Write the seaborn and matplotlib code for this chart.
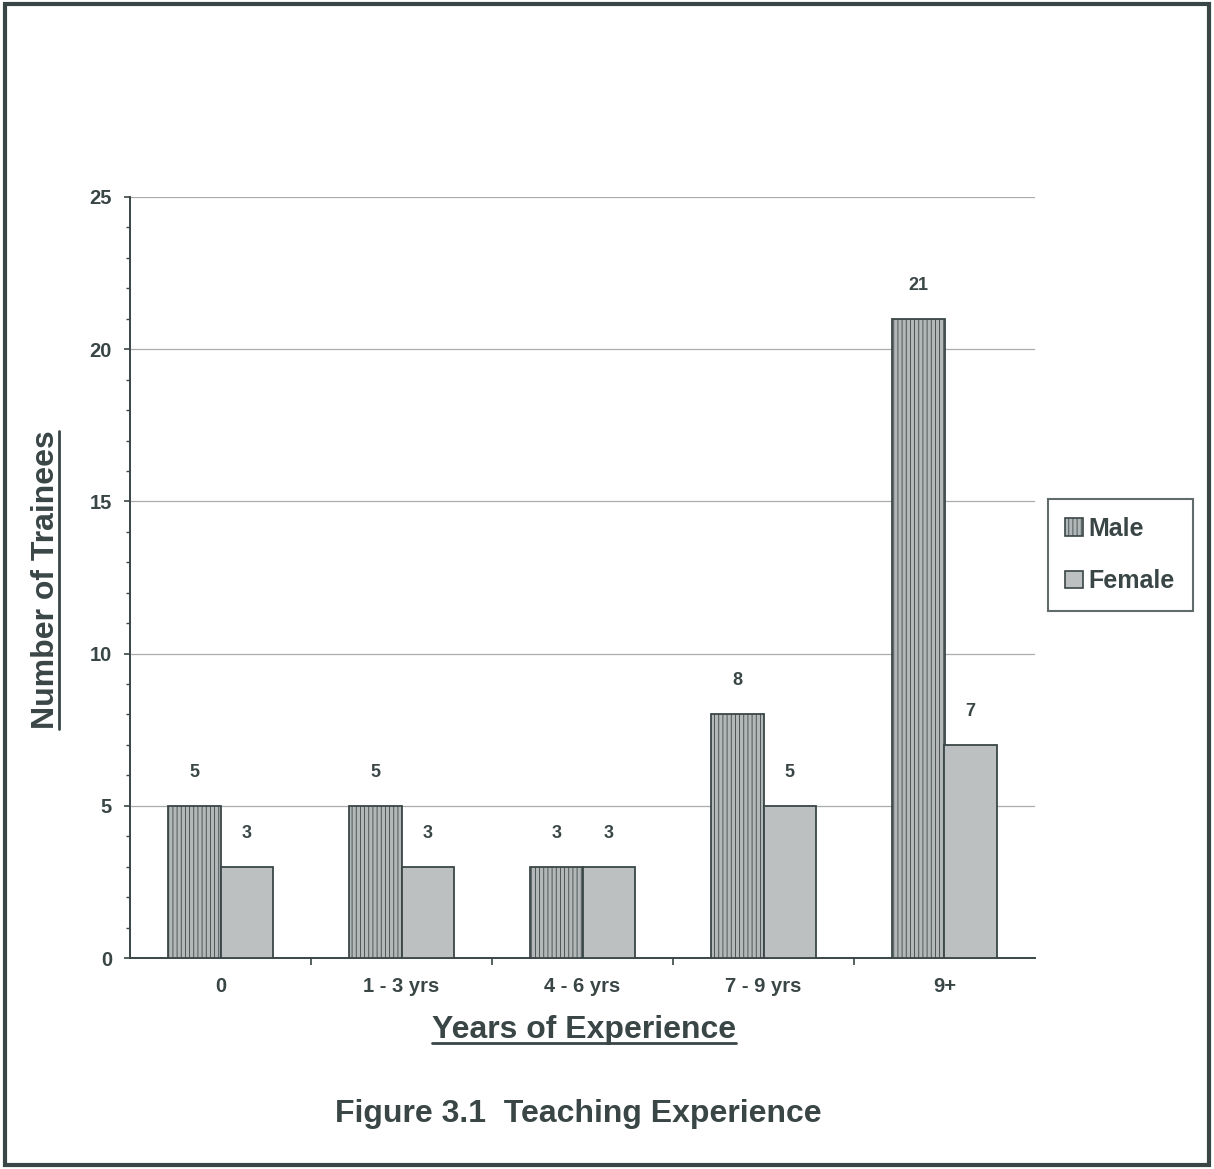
import numpy as np
import pandas as pd
import matplotlib
matplotlib.use("Agg")
import matplotlib.pyplot as plt
from matplotlib.patches import Patch, Rectangle
from matplotlib.lines import Line2D
from matplotlib.ticker import MultipleLocator, FixedLocator
import seaborn as sns

categories = ["0", "1 - 3 yrs", "4 - 6 yrs", "7 - 9 yrs", "9+"]
male = [5, 5, 3, 8, 21]
female = [3, 3, 3, 5, 7]
series_names = ["Male", "Female"]

INK = "#3a4646"
MALE_FACE = "#b2b8b8"
FEMALE_FACE = "#bcc0c0"

sns.set_theme(style="white")
plt.rcParams["font.family"] = ["Liberation Sans", "DejaVu Sans"]
plt.rcParams["hatch.linewidth"] = 0.6

df = pd.DataFrame({
    "Years": categories * 2,
    "Count": male + female,
    "Gender": ["Male"] * len(categories) + ["Female"] * len(categories),
})

W, H = 1214, 1169
fig = plt.figure(figsize=(W / 100, H / 100), dpi=100)
fig.patch.set_facecolor("white")
ax = fig.add_axes([130 / W, 1 - 958 / H, (1035 - 130) / W, (958 - 197) / H])

sns.barplot(data=df, x="Years", y="Count", hue="Gender", order=categories,
            hue_order=series_names,
            palette={"Male": MALE_FACE, "Female": FEMALE_FACE},
            width=0.58, edgecolor=INK, linewidth=1.3, legend=False, ax=ax,
            zorder=3)

for bar in ax.containers[0]:
    bar.set_hatch("||||")

ax.set_xlim(-0.5, len(categories) - 0.5)
ax.set_ylim(0, 25)
ax.yaxis.set_major_locator(MultipleLocator(5))
ax.yaxis.set_minor_locator(MultipleLocator(1))
ax.xaxis.set_minor_locator(FixedLocator(np.arange(0.5, len(categories) - 0.5, 1)))
ax.grid(axis="y", which="major", color="#a8acac", linewidth=0.9, zorder=0)
ax.set_axisbelow(True)

for s in ["top", "right"]:
    ax.spines[s].set_visible(False)
for s in ["left", "bottom"]:
    ax.spines[s].set_color(INK)
    ax.spines[s].set_linewidth(1.4)

ax.tick_params(axis="y", which="major", direction="out", length=4, width=1.2,
               colors=INK, labelsize=14.5, pad=9, left=True)
ax.tick_params(axis="y", which="minor", direction="out", length=3, width=1.0,
               colors=INK, left=True)
ax.tick_params(axis="x", which="major", length=0, labelsize=14.5, colors=INK, pad=14)
ax.tick_params(axis="x", which="minor", direction="out", length=5, width=1.2,
               colors=INK, bottom=True)
for lab in ax.get_yticklabels() + ax.get_xticklabels():
    lab.set_fontweight("bold")
ax.set_xlabel("")
ax.set_ylabel("")

# value labels above each bar
for cont, vals in zip(ax.containers, [male, female]):
    ax.bar_label(cont, labels=[str(v) for v in vals], padding=18,
                 fontsize=13, fontweight="bold", color=INK)

# axis titles and caption
txt_kw = dict(fontsize=23, fontweight="bold", color=INK)
xlab = fig.text(584 / W, 1 - 1030 / H, "Years of Experience", ha="center", va="center", **txt_kw)
ylab = fig.text(46 / W, 1 - 580 / H, "Number of Trainees", ha="center", va="center",
                rotation=90, **txt_kw)
fig.text(578 / W, 1 - 1114 / H, "Figure 3.1  Teaching Experience", ha="center",
         va="center", **txt_kw)

# legend
handles = [Patch(facecolor=MALE_FACE, edgecolor=INK, hatch="||||", linewidth=1.2),
           Patch(facecolor=FEMALE_FACE, edgecolor=INK, linewidth=1.2)]
leg = fig.legend(handles, series_names, loc="center",
                 bbox_to_anchor=(1120 / W, 1 - 555 / H), frameon=True,
                 fancybox=False, handlelength=0.7, handleheight=0.7,
                 handletextpad=0.25, labelspacing=1.15, borderpad=0.7,
                 borderaxespad=0, prop={"weight": "bold", "size": 18})
leg.get_frame().set_edgecolor(INK)
leg.get_frame().set_linewidth(1.5)
for t in leg.get_texts():
    t.set_color(INK)

# outer border
fig.add_artist(Rectangle((5 / W, 4 / H), (1209 - 5) / W, (1165 - 4) / H,
                         transform=fig.transFigure, fill=False,
                         edgecolor=INK, linewidth=3))

# underline the axis titles
fig.canvas.draw()
renderer = fig.canvas.get_renderer()
inv = fig.transFigure.inverted()
bb = xlab.get_window_extent(renderer)
(x0, y0), (x1, y1) = inv.transform([(bb.x0, bb.y0), (bb.x1, bb.y1)])
fig.add_artist(Line2D([x0, x1], [y0 + 2 / H, y0 + 2 / H], transform=fig.transFigure,
                      color=INK, linewidth=2))
bb = ylab.get_window_extent(renderer)
(x0, y0), (x1, y1) = inv.transform([(bb.x0, bb.y0), (bb.x1, bb.y1)])
fig.add_artist(Line2D([x1 - 2 / W, x1 - 2 / W], [y0, y1], transform=fig.transFigure,
                      color=INK, linewidth=2))

fig.savefig("out.png", dpi=100, facecolor="white")
